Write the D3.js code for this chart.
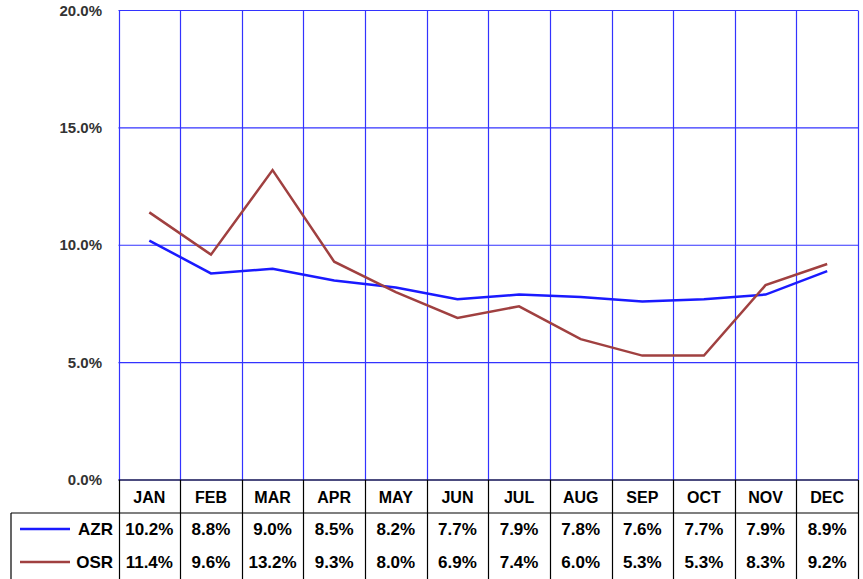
<!DOCTYPE html>
<html>
<head>
<meta charset="utf-8">
<script src="https://cdn.jsdelivr.net/npm/d3@7"></script>
<style>
  body { margin: 0; background: #fff; }
  text { font-family: "Liberation Sans", Arial, sans-serif; font-weight: bold; }
</style>
</head>
<body>
<div id="chart"></div>
<script>
// data
const months = ["JAN", "FEB", "MAR", "APR", "MAY", "JUN", "JUL", "AUG", "SEP", "OCT", "NOV", "DEC"];
const azr = [10.2, 8.8, 9.0, 8.5, 8.2, 7.7, 7.9, 7.8, 7.6, 7.7, 7.9, 8.9];
const osr = [11.4, 9.6, 13.2, 9.3, 8.0, 6.9, 7.4, 6.0, 5.3, 5.3, 8.3, 9.2];
const yTicks = [0, 5, 10, 15, 20];

const series = [
    { name: "AZR", values: azr, color: "#1a1aff" },
    { name: "OSR", values: osr, color: "#a04040" }
];

const width = 863;
const height = 579;
const plotL = 118.5, plotR = 858, plotT = 10.5, plotB = 480;
const rowH = 33;

const svg = d3.select("#chart")
    .append("svg")
    .attr("width", width)
    .attr("height", height);

const x = d3.scaleBand().domain(months).range([plotL, plotR]);
const y = d3.scaleLinear().domain([0, 20]).range([plotB, plotT]);

// horizontal grid
svg.selectAll(".hgrid")
    .data(yTicks)
    .enter()
    .append("line")
    .attr("x1", plotL).attr("x2", plotR)
    .attr("y1", d => y(d)).attr("y2", d => y(d))
    .style("stroke", "#3333ff")
    .style("stroke-width", 1.2);

// vertical grid
const bounds = months.map(m => x(m)).concat([plotR]);
svg.selectAll(".vgrid")
    .data(bounds)
    .enter()
    .append("line")
    .attr("x1", d => Math.round(d) + 0.5).attr("x2", d => Math.round(d) + 0.5)
    .attr("y1", plotT).attr("y2", plotB)
    .style("stroke", "#3333ff")
    .style("stroke-width", 1.2);

// y labels
svg.selectAll(".ylab")
    .data(yTicks)
    .enter()
    .append("text")
    .attr("x", 102)
    .attr("y", d => y(d) + 5)
    .attr("text-anchor", "end")
    .style("font-size", "15px")
    .style("fill", "#333")
    .text(d => d.toFixed(1) + "%");

// lines
const line = d3.line()
    .x((d, i) => x(months[i]) + x.bandwidth() / 2)
    .y(d => y(d));

series.forEach(s => {
    svg.append("path")
        .datum(s.values)
        .attr("d", line)
        .style("fill", "none")
        .style("stroke", s.color)
        .style("stroke-width", 2.5);
});

// data table
const tbl = svg.append("g");
const tEnd = height + 2;
const tline = (x1, y1, x2, y2) => tbl.append("line")
    .attr("x1", x1).attr("y1", y1).attr("x2", x2).attr("y2", y2)
    .style("stroke", "#000").style("stroke-width", 1.2);

tline(plotL, plotB, plotR, plotB);
tline(11, plotB + rowH, plotR, plotB + rowH);
tline(11, plotB + rowH, 11, tEnd);
bounds.forEach(b => tline(Math.round(b) + 0.5, plotB, Math.round(b) + 0.5, tEnd));

tbl.selectAll(".mlab")
    .data(months)
    .enter()
    .append("text")
    .attr("x", d => x(d) + x.bandwidth() / 2)
    .attr("y", plotB + 23)
    .attr("text-anchor", "middle")
    .style("font-size", "16px")
    .style("fill", "#000")
    .text(d => d);

series.forEach((s, r) => {
    const cy = plotB + rowH + rowH * r + 16;
    tbl.append("line")
        .attr("x1", 20).attr("x2", 70)
        .attr("y1", cy).attr("y2", cy)
        .style("stroke", s.color)
        .style("stroke-width", 2.5);
    tbl.append("text")
        .attr("x", 113)
        .attr("y", cy + 6)
        .attr("text-anchor", "end")
        .style("font-size", "17px")
        .style("fill", "#000")
        .text(s.name);
    tbl.selectAll(".v" + r)
        .data(s.values)
        .enter()
        .append("text")
        .attr("x", (d, i) => x(months[i]) + x.bandwidth() / 2)
        .attr("y", cy + 6)
        .attr("text-anchor", "middle")
        .style("font-size", "17px")
        .style("fill", "#000")
        .text(d => d.toFixed(1) + "%");
});
</script>
</body>
</html>
